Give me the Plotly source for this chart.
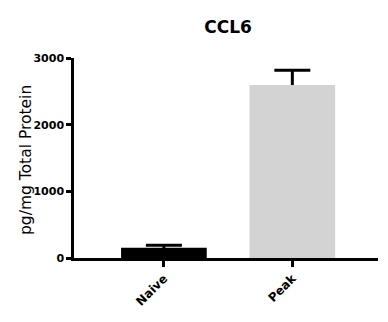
import plotly.graph_objects as go

categories = ["Naive", "Peak"]
means = [155, 2595]
sem = [35, 220]
bar_colors = ["#000000", "#d3d3d3"]
y_ticks = [0, 1000, 2000, 3000]
y_title = "pg/mg Total Protein"

FONT = "'DejaVu Sans', Arial, sans-serif"
W, H = 388, 322
L, R, T, B = 74, 10, 58, 64
PW, PH = W - L - R, H - T - B

fig = go.Figure()
# error bars (lower half hidden under the opaque bars drawn after)
fig.add_trace(go.Bar(
    x=categories, y=means, width=0.667,
    marker=dict(color="rgba(0,0,0,0)", line=dict(width=0)),
    error_y=dict(type="data", array=sem, visible=True,
                 color="#000000", thickness=3, width=18),
    showlegend=False, hoverinfo="skip",
))
fig.add_trace(go.Bar(
    x=categories, y=means, width=0.667,
    marker=dict(color=bar_colors, line=dict(width=0)),
    showlegend=False,
))

fig.update_layout(
    width=W, height=H,
    margin=dict(l=L, r=R, t=T, b=B),
    paper_bgcolor="white", plot_bgcolor="white",
    barmode="overlay",
    font=dict(family=FONT, color="#000000"),
    title=dict(text="<b>CCL6</b>", x=228 / W, xanchor="center",
               y=1 - 27 / H, yanchor="middle",
               font=dict(size=17, family=FONT, color="#000000")),
    annotations=[dict(
        text=y_title, textangle=-90, showarrow=False,
        xref="paper", yref="paper",
        x=(26 - L) / PW, y=(H - B - 160) / PH,
        xanchor="center", yanchor="middle",
        font=dict(size=15.5, family=FONT, color="#000000"),
    )],
)
fig.update_xaxes(
    range=[-0.7, 1.667], showgrid=False, zeroline=False,
    showline=True, linecolor="#000000", linewidth=2.5,
    ticks="outside", ticklen=6, tickwidth=2.5, tickcolor="#000000",
    tickangle=-45,
    tickfont=dict(size=12, family=FONT, color="#000000", weight="bold"),
)
fig.update_yaxes(
    range=[0, 3000], tickvals=y_ticks, showgrid=False, zeroline=False,
    showline=True, linecolor="#000000", linewidth=2.5,
    ticks="outside", ticklen=5, tickwidth=2.5, tickcolor="#000000",
    tickfont=dict(size=11, family=FONT, color="#000000", weight="bold"),
)

fig.write_html("out.html")
